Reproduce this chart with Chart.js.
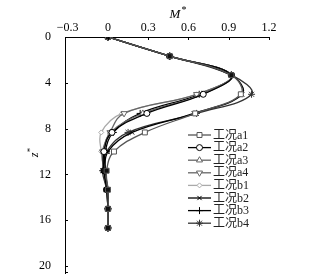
<!DOCTYPE html>
<html><head><meta charset="utf-8">
<script src="https://cdn.jsdelivr.net/npm/chart.js@4"></script>
<style>html,body{margin:0;padding:0;background:#fff}#wrap{width:331px;height:280px}</style>
</head><body><div id="wrap"><canvas id="c" width="331" height="280"></canvas></div>
<script>
// depth z* of each computed point
const depthZ = [0, 1.67, 3.33, 5, 6.67, 8.33, 10, 11.67, 13.33, 15, 16.67];
// M* values per case
const caseA1 = [0, 0.46, 0.92, 0.99, 0.65, 0.275, 0.045, -0.01, 0.0, 0.0, 0.0];
const caseA2 = [0, 0.46, 0.92, 0.71, 0.29, 0.03, -0.03, -0.03, -0.01, 0.0, 0.0];
const caseA3 = [0, 0.46, 0.92, 0.70, 0.26, 0.02, -0.03, -0.03, -0.01, 0.0, 0.0];
const caseA4 = [0, 0.46, 0.92, 0.66, 0.12, 0.015, -0.04, -0.03, -0.01, 0.0, 0.0];
const caseB1 = [0, 0.46, 0.92, 0.66, 0.105, -0.05, -0.05, -0.03, -0.01, 0.0, 0.0];
const caseB2 = [0, 0.46, 0.92, 1.0, 0.64, 0.18, 0.0, -0.02, 0.0, 0.0, 0.0];
const caseB3 = [0, 0.46, 0.92, 0.68, 0.24, 0.04, -0.02, -0.02, -0.005, 0.0, 0.0];
const caseB4 = [0, 0.46, 0.92, 1.07, 0.66, 0.15, -0.01, -0.04, -0.01, 0.0, 0.0];
const caseNames = ['工况a1','工况a2','工况a3','工况a4','工况b1','工况b2','工况b3','工况b4'];
const xTickValues = [-0.3, 0, 0.3, 0.6, 0.9, 1.2];
const xTickLabels = ['\u22120.3', '0', '0.3', '0.6', '0.9', '1.2'];
const yTickValues = [0, 4, 8, 12, 16, 20];
const yTickLabels = ['0', '4', '8', '12', '16', '20'];

const seriesValues = [caseA1, caseA2, caseA3, caseA4, caseB1, caseB2, caseB3, caseB4];
const styles = [
  {c:'#555', ps:'rect', r:3.5, rot:0},
  {c:'#000', ps:'circle', r:3, rot:0},
  {c:'#666', ps:'triangle', r:3.5, rot:0},
  {c:'#666', ps:'triangle', r:3.5, rot:180},
  {c:'#aaa', ps:'rectRot', r:2.5, rot:0},
  {c:'#000', ps:'crossRot', r:3, rot:0},
  {c:'#000', ps:'cross', r:3.5, rot:0},
  {c:'#333', ps:'star', r:3.5, rot:0}
];
const serif = '"Liberation Serif", "DejaVu Serif", serif';
const cjk = '"Liberation Serif", "Noto Sans CJK SC", serif';

const datasets = seriesValues.map((vals, i) => ({
  label: caseNames[i],
  data: vals.map((m, k) => ({x: m, y: depthZ[k]})),
  showLine: true,
  tension: 0.4,
  borderColor: styles[i].c,
  borderWidth: 1.3,
  pointStyle: styles[i].ps,
  pointRotation: styles[i].rot,
  pointRadius: styles[i].r,
  pointBorderColor: styles[i].c,
  pointBorderWidth: 1,
  pointBackgroundColor: ctx => (ctx.dataIndex <= 2 || ctx.dataIndex >= 7) ? '#111' : '#fff'
}));

function drawMarker(ctx, st, x, y) {
  ctx.save();
  ctx.strokeStyle = st.c; ctx.fillStyle = '#fff'; ctx.lineWidth = 1;
  if (Chart.helpers && Chart.helpers.drawPoint) {
    Chart.helpers.drawPoint(ctx, {pointStyle: st.ps, rotation: st.rot, radius: st.r, borderWidth: 1}, x, y);
  } else {
    ctx.beginPath(); ctx.arc(x, y, st.r, 0, Math.PI*2); ctx.fill(); ctx.stroke();
  }
  ctx.restore();
}

const decor = {
  id: 'decor',
  afterDraw(chart) {
    const ctx = chart.ctx;
    const xs = chart.scales.x, ys = chart.scales.y;
    ctx.save();
    ctx.strokeStyle = '#000'; ctx.lineWidth = 1;
    // inside tick marks
    xTickValues.forEach(v => {
      if (v <= xs.min + 0.05) return;
      const px = Math.round(xs.getPixelForValue(v)) + 0.5;
      ctx.beginPath(); ctx.moveTo(px, xs.bottom); ctx.lineTo(px, xs.bottom + 3); ctx.stroke();
    });
    yTickValues.forEach(v => {
      if (v === 0) return;
      const py = Math.round(ys.getPixelForValue(v)) + 0.5;
      ctx.beginPath(); ctx.moveTo(ys.right, py); ctx.lineTo(ys.right + 3, py); ctx.stroke();
    });
    const pb = Math.round(ys.bottom) - 0.5;
    ctx.beginPath(); ctx.moveTo(ys.right, pb); ctx.lineTo(ys.right + 3, pb); ctx.stroke();
    // axis titles
    ctx.fillStyle = '#000';
    ctx.textBaseline = 'middle'; ctx.textAlign = 'center';
    ctx.font = 'italic 13px ' + serif;
    ctx.fillText('M', 175, 15);
    ctx.font = '10px ' + serif;
    ctx.fillText('*', 184, 10);
    ctx.translate(35, 153); ctx.rotate(-Math.PI/2);
    ctx.font = 'italic 12px ' + serif;
    ctx.fillText('z', -2, 0);
    ctx.font = '9px ' + serif;
    ctx.fillText('*', 3, -4);
    ctx.restore();
    // legend
    ctx.save();
    const x0 = 188, x1 = 211, tx = 213, y0 = 135, dy = 12.6;
    chart.data.datasets.forEach((ds, i) => {
      const y = y0 + i * dy;
      const st = styles[i];
      ctx.strokeStyle = st.c; ctx.lineWidth = 1.3;
      ctx.beginPath(); ctx.moveTo(x0, y); ctx.lineTo(x1, y); ctx.stroke();
      drawMarker(ctx, st, (x0 + x1) / 2, y);
      ctx.fillStyle = '#222'; ctx.font = '12px ' + cjk;
      ctx.textAlign = 'left'; ctx.textBaseline = 'middle';
      ctx.fillText(ds.label, tx, y + 0.5);
    });
    ctx.restore();
  }
};

new Chart(document.getElementById('c'), {
  type: 'scatter',
  data: {datasets},
  options: {
    responsive: false,
    devicePixelRatio: 1,
    animation: false,
    layout: {padding: {left: 0, right: 62, top: 0, bottom: 7}},
    plugins: {legend: {display: false}, tooltip: {enabled: false}},
    scales: {
      x: {
        type: 'linear', position: 'top', min: -0.32, max: 1.2,
        afterBuildTicks: s => { s.ticks = xTickValues.map(v => ({value: v})); },
        afterFit: s => { s.height = 37; s.paddingLeft = 0; s.paddingRight = 0; },
        grid: {display: false},
        border: {display: true, color: '#000', width: 1},
        ticks: {
          autoSkip: false, maxRotation: 0, padding: -6, color: '#000',
          font: {family: serif, size: 12},
          callback: v => xTickLabels[xTickValues.findIndex(t => Math.abs(t - v) < 1e-9)]
        }
      },
      y: {
        type: 'linear', position: 'left', reverse: true, min: 0, max: 20.6,
        afterBuildTicks: s => { s.ticks = yTickValues.map(v => ({value: v})); },
        afterFit: s => { s.width = 65; s.paddingTop = 0; s.paddingBottom = 0; },
        grid: {display: false},
        border: {display: true, color: '#000', width: 1},
        ticks: {
          autoSkip: false, padding: 6, color: '#000',
          font: {family: serif, size: 12},
          callback: v => yTickLabels[yTickValues.indexOf(v)]
        }
      }
    }
  },
  plugins: [decor]
});
</script>
</body></html>
